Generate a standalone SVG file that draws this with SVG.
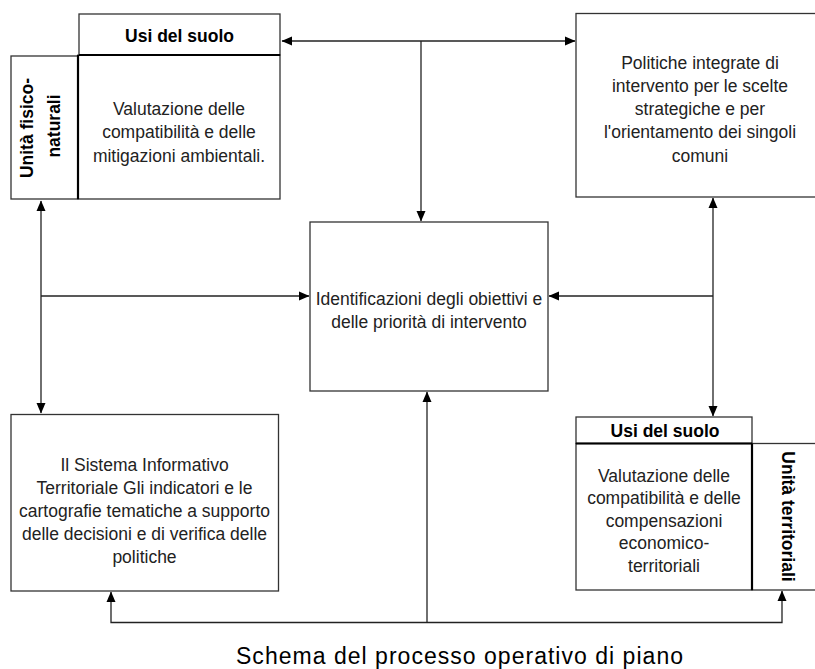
<svg xmlns="http://www.w3.org/2000/svg" width="815" height="669" viewBox="0 0 815 669">
<style>
.box{fill:#fff;stroke:#333;stroke-width:1.3}
.sep{stroke:#000;stroke-width:2.2;fill:none}
.t{font-family:"Liberation Sans",Arial,sans-serif;font-size:17.5px;fill:#222;text-anchor:middle}
.h{font-family:"Liberation Sans",Arial,sans-serif;font-size:17.5px;font-weight:bold;fill:#000;text-anchor:middle}
.c{stroke:#222;stroke-width:1.3;fill:none}
.cap{font-family:"Liberation Sans",Arial,sans-serif;font-size:23px;fill:#000}
</style>
<defs>
<marker id="ah" markerUnits="userSpaceOnUse" markerWidth="11" markerHeight="10" refX="10" refY="4.5" orient="auto-start-reverse" viewBox="0 0 11 9">
<path d="M0,0 L10.5,4.5 L0,9 z" fill="#000"/>
</marker>
</defs>
<rect width="815" height="669" fill="#fff"/>

<g id="connectors">
<line class="c" x1="282" y1="41" x2="575" y2="41" marker-start="url(#ah)" marker-end="url(#ah)"/>
<line class="c" x1="421" y1="41" x2="421" y2="221" marker-end="url(#ah)"/>
<line class="c" x1="41" y1="201" x2="41" y2="413" marker-start="url(#ah)" marker-end="url(#ah)"/>
<line class="c" x1="41" y1="296" x2="309" y2="296" marker-end="url(#ah)"/>
<line class="c" x1="713" y1="198" x2="713" y2="416" marker-start="url(#ah)" marker-end="url(#ah)"/>
<line class="c" x1="713" y1="296" x2="549" y2="296" marker-end="url(#ah)"/>
<polyline class="c" points="111,592 111,622.5 782,622.5 782,591" marker-start="url(#ah)" marker-end="url(#ah)"/>
<line class="c" x1="427" y1="622.5" x2="427" y2="392" marker-end="url(#ah)"/>
</g>

<g id="node-usi-suolo-1">
<rect class="box" x="79" y="14" width="201" height="41"/>
<rect class="box" x="11" y="56" width="67" height="143"/>
<rect class="box" x="78" y="55" width="202" height="144"/>
<line class="sep" x1="79" y1="55" x2="280" y2="55"/>
<line class="sep" x1="78" y1="55" x2="78" y2="199"/>
<text class="h" x="179.5" y="42">Usi del suolo</text>
<text class="h" transform="translate(33,128) rotate(-90)">Unità fisico-</text>
<text class="h" transform="translate(60,126) rotate(-90)">naturali</text>
<text class="t" x="179" y="114.5">Valutazione delle</text>
<text class="t" x="179" y="138">compatibilità e delle</text>
<text class="t" x="179" y="161.5">mitigazioni ambientali.</text>
</g>

<g id="node-politiche">
<rect class="box" x="576" y="13.5" width="250" height="183.5"/>
<text class="t" x="700" y="68.5">Politiche integrate di</text>
<text class="t" x="700" y="91.8">intervento per le scelte</text>
<text class="t" x="700" y="115">strategiche e per</text>
<text class="t" x="700" y="138.3">l'orientamento dei singoli</text>
<text class="t" x="700" y="161.5">comuni</text>
</g>

<g id="node-identificazioni">
<rect class="box" x="310" y="222" width="238" height="169"/>
<text class="t" x="429" y="305">Identificazioni degli obiettivi e</text>
<text class="t" x="429" y="327.5">delle priorità di intervento</text>
</g>

<g id="node-sit">
<rect class="box" x="11" y="414.5" width="267.5" height="176.5"/>
<text class="t" x="144.5" y="470.5">Il Sistema Informativo</text>
<text class="t" x="144.5" y="493.5">Territoriale Gli indicatori e le</text>
<text class="t" x="144.5" y="516.5">cartografie tematiche a supporto</text>
<text class="t" x="144.5" y="539.5">delle decisioni e di verifica delle</text>
<text class="t" x="144.5" y="562.5">politiche</text>
</g>

<g id="node-usi-suolo-2">
<rect class="box" x="576" y="417" width="176" height="26.5"/>
<rect class="box" x="752" y="443.5" width="74" height="146.5"/>
<rect class="box" x="576" y="443.5" width="176" height="146.5"/>
<line class="sep" x1="576" y1="443.5" x2="752" y2="443.5"/>
<line class="sep" x1="752" y1="443.5" x2="752" y2="590"/>
<text class="h" x="665" y="437">Usi del suolo</text>
<text class="h" transform="translate(782,516.5) rotate(90)">Unità territoriali</text>
<text class="t" x="664" y="481.5">Valutazione delle</text>
<text class="t" x="664" y="504">compatibilità e delle</text>
<text class="t" x="664" y="526.5">compensazioni</text>
<text class="t" x="664" y="549">economico-</text>
<text class="t" x="664" y="571.5">territoriali</text>
</g>

<text class="cap" x="236" y="663.5" textLength="447" lengthAdjust="spacing">Schema del processo operativo di piano</text>
</svg>
